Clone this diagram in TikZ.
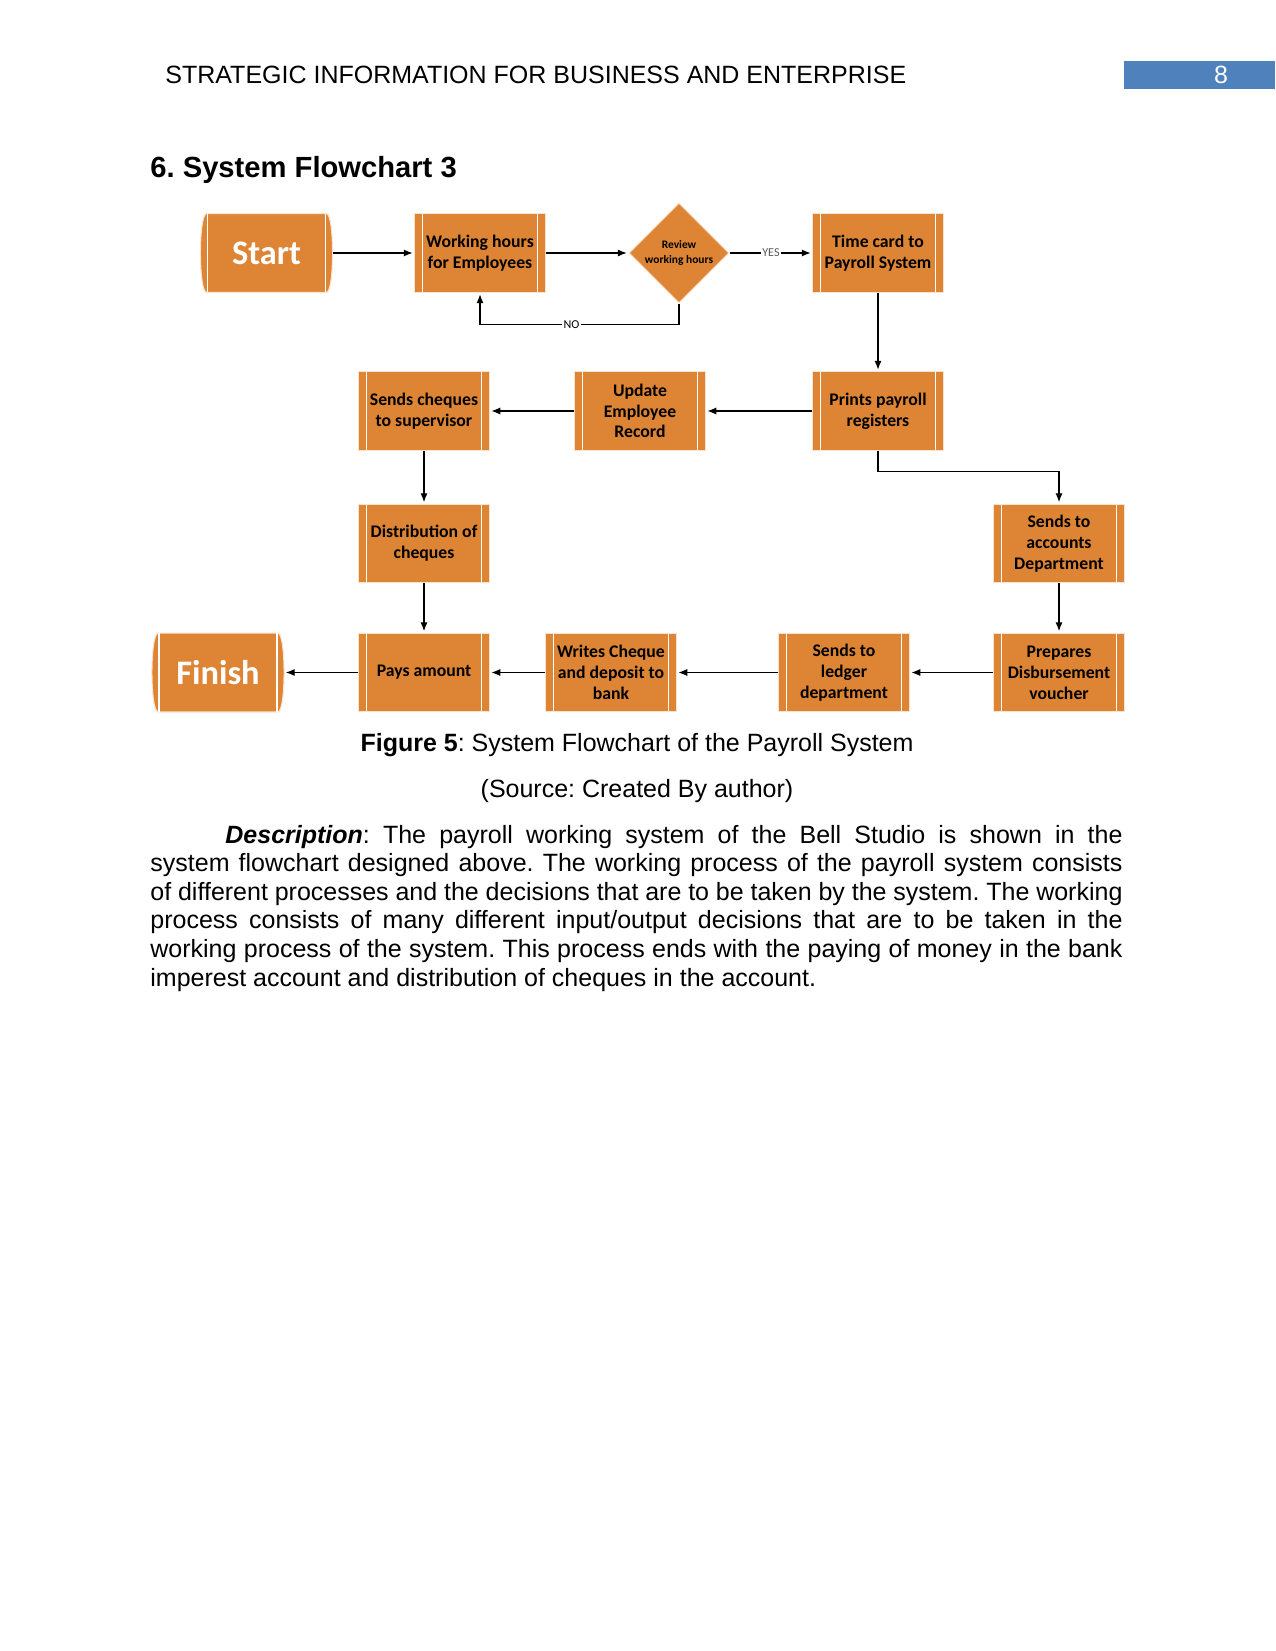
\documentclass[tikz,border=0pt]{standalone}
\usepackage{fontspec}
\setmainfont{Liberation Sans}
\newfontfamily\carlito{Carlito}
\usetikzlibrary{shapes.geometric,arrows.meta,backgrounds}
\definecolor{boxfill}{RGB}{221,133,52}
\definecolor{boxedge}{RGB}{250,226,204}
\definecolor{pgblue}{RGB}{79,129,189}
\definecolor{lblgray}{RGB}{89,89,89}
\frenchspacing
\begin{document}
\frenchspacing
\begin{tikzpicture}[x=0.48pt,y=-0.48pt,
  proc/.style={fill=boxfill, draw=boxedge, line width=0.5pt, minimum width=62.5pt, minimum height=37.5pt,
    inner sep=1pt, align=center, font=\carlito\bfseries\fontsize{8.5}{10}\selectfont, text=black,
    path picture={\draw[white,line width=0.6pt] ([xshift=3.8pt]path picture bounding box.north west) -- ([xshift=3.8pt]path picture bounding box.south west);
      \draw[white,line width=0.6pt] ([xshift=-3.8pt]path picture bounding box.north east) -- ([xshift=-3.8pt]path picture bounding box.south east);}},
  term/.style={minimum width=57pt, minimum height=37.5pt, inner sep=0pt,
    font=\carlito\bfseries\fontsize{16.5}{18}\selectfont, text=white},
  dec/.style={diamond, aspect=1, fill=boxfill, draw=boxedge, line width=0.5pt, minimum width=48pt,
    minimum height=48pt, inner sep=0pt, align=center, font=\carlito\bfseries\fontsize{5.5}{6.8}\selectfont},
  conn/.style={-{Latex[length=4.3pt,width=3.4pt]}, line width=0.6pt, shorten >=0.8pt},
  lbl/.style={fill=white, inner sep=0.6pt, font=\carlito\fontsize{5.8}{6}\selectfont}
]
\useasboundingbox (0,0) rectangle (1275,1651);

% header
\node[anchor=base west, inner sep=0pt, font=\fontsize{12}{14}\selectfont] (hdr) at (165,84) {STRATEGIC INFORMATION FOR BUSINESS AND ENTERPRISE};
\fill[pgblue] (1124,61) rectangle (1275,89.5);
\node[anchor=base, inner sep=0pt, text=white, font=\fontsize{12}{14}\selectfont] (pg) at (1221,84) {8};
\node[anchor=base west, inner sep=0pt, font=\bfseries\fontsize{14}{16}\selectfont] (ttl) at (150,178) {6. System Flowchart 3};

% terminals
\node[term] (start) at (266.5,253) {Start};
\node[term] (finish) at (218,672.5) {Finish};
\begin{pgfonlayer}{background}
\foreach \n in {start,finish}{
  \filldraw[fill=boxfill, draw=boxedge, line width=0.5pt] (\n.north west) .. controls ([xshift=-4pt]\n.north west) and ([xshift=-4pt]\n.south west) .. (\n.south west) -- (\n.south east) .. controls ([xshift=4pt]\n.south east) and ([xshift=4pt]\n.north east) .. (\n.north east) -- cycle;
  \draw[white, line width=0.6pt] ([xshift=0.4pt]\n.north west) -- ([xshift=0.4pt]\n.south west);
  \draw[white, line width=0.6pt] ([xshift=-0.4pt]\n.north east) -- ([xshift=-0.4pt]\n.south east);
}
\end{pgfonlayer}

% process boxes
\node[proc] (work) at (480,253) {Working hours\\for Employees};
\node[dec] (dia) at (679,253) {Review\\working hours};
\node[proc] (time) at (878,253) {Time card to\\Payroll System};
\node[proc] (prints) at (878,411) {Prints payroll\\registers};
\node[proc] (update) at (640,411) {Update\\Employee\\Record};
\node[proc] (sendch) at (424,411) {Sends cheques\\to supervisor};
\node[proc] (dist) at (424,543.5) {Distribution of\\cheques};
\node[proc] (acct) at (1059,543.5) {Sends to\\accounts\\Department};
\node[proc] (pays) at (424,672.5) {Pays amount};
\node[proc] (writes) at (611,672.5) {Writes Cheque\\and deposit to\\bank};
\node[proc] (ledger) at (844,672.5) {Sends to\\ledger\\department};
\node[proc] (prep) at (1059,672.5) {Prepares\\Disbursement\\voucher};

% connectors
\draw[conn] ([xshift=3pt]start.east) -- (work.west);
\draw[conn] (work.east) -- (dia.west);
\draw[conn] (dia.east) -- node[lbl, text=lblgray] {YES} (time.west);
\draw[conn] (dia.south) -- ++(0,21) -| node[lbl, pos=0.27, text=black] {NO} (work.south);
\draw[conn] (time.south) -- (prints.north);
\draw[conn] (prints.west) -- (update.east);
\draw[conn] (update.west) -- (sendch.east);
\draw[conn] (sendch.south) -- (dist.north);
\draw[conn] (dist.south) -- (pays.north);
\draw[conn] (prints.south) -- ++(0,21) -| (acct.north);
\draw[conn] (acct.south) -- (prep.north);
\draw[conn] (prep.west) -- (ledger.east);
\draw[conn] (ledger.west) -- (writes.east);
\draw[conn] (writes.west) -- (pays.east);
\draw[conn] (pays.west) -- ([xshift=3pt]finish.east);

% captions
\node[anchor=base, inner sep=0pt, font=\fontsize{12}{14}\selectfont] (cap) at (637,751) {\textbf{Figure 5}: System Flowchart of the Payroll System};
\node[anchor=base, inner sep=0pt, font=\fontsize{12}{14}\selectfont] (src) at (637,797) {(Source: Created By author)};

% description
\node[anchor=base west, inner sep=0pt, text width=466.6pt, align=justify, font=\fontsize{12}{13.73}\selectfont] (desc) at (150,843)
{\frenchspacing\hspace*{36pt}\textbf{\textit{Description}}: The payroll working system of the Bell Studio is shown in the\linebreak
system flowchart designed above. The working process of the payroll system consists\linebreak
of different processes and the decisions that are to be taken by the system. The working\linebreak
process consists of many different input/output decisions that are to be taken in the\linebreak
working process of the system. This process ends with the paying of money in the bank\linebreak
imperest account and distribution of cheques in the account.};
\end{tikzpicture}
\end{document}
